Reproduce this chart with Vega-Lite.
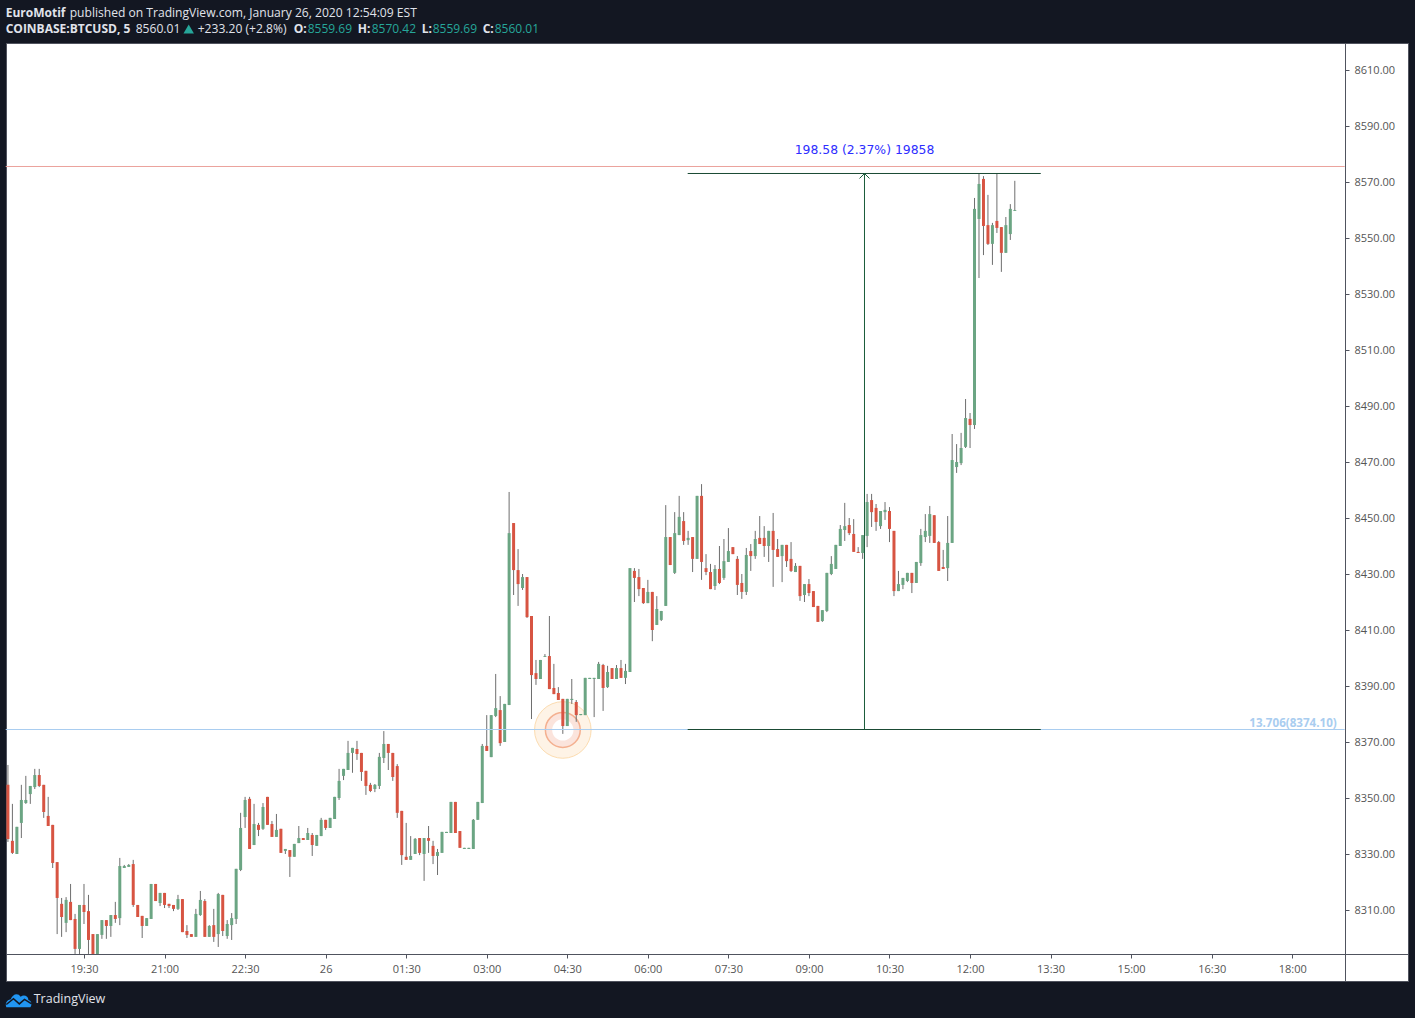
{"$schema":"https://vega.github.io/schema/vega-lite/v6.json","width":1402,"height":938,"autosize":"none","padding":{"left":6,"top":43,"right":7,"bottom":37},"background":"#131722","view":{"fill":"#ffffff","stroke":"#50535e"},"config":{"font":"Open Sans"},
"datasets":{"candles":[
{"t":"2020-01-25T18:05Z","o":8354.7,"h":8361.8,"l":8334.3,"c":8335.4},
{"t":"2020-01-25T18:10Z","o":8334.7,"h":8347.9,"l":8330.0,"c":8330.4},
{"t":"2020-01-25T18:15Z","o":8330.0,"h":8339.7,"l":8330.0,"c":8339.7},
{"t":"2020-01-25T18:20Z","o":8341.1,"h":8354.7,"l":8335.7,"c":8349.3},
{"t":"2020-01-25T18:25Z","o":8348.2,"h":8357.9,"l":8347.9,"c":8349.3},
{"t":"2020-01-25T18:30Z","o":8351.4,"h":8354.3,"l":8347.9,"c":8354.3},
{"t":"2020-01-25T18:35Z","o":8353.9,"h":8360.4,"l":8353.2,"c":8358.2},
{"t":"2020-01-25T18:40Z","o":8358.2,"h":8360.4,"l":8353.9,"c":8354.3},
{"t":"2020-01-25T18:45Z","o":8354.7,"h":8354.7,"l":8342.9,"c":8345.0},
{"t":"2020-01-25T18:50Z","o":8343.6,"h":8350.4,"l":8340.0,"c":8340.0},
{"t":"2020-01-25T18:55Z","o":8340.4,"h":8340.4,"l":8325.0,"c":8326.8},
{"t":"2020-01-25T19:00Z","o":8327.1,"h":8327.1,"l":8301.4,"c":8314.3},
{"t":"2020-01-25T19:05Z","o":8312.2,"h":8314.3,"l":8300.4,"c":8307.5},
{"t":"2020-01-25T19:10Z","o":8305.4,"h":8314.6,"l":8302.1,"c":8313.6},
{"t":"2020-01-25T19:15Z","o":8312.9,"h":8319.3,"l":8306.4,"c":8306.4},
{"t":"2020-01-25T19:20Z","o":8306.8,"h":8308.6,"l":8294.3,"c":8296.1},
{"t":"2020-01-25T19:25Z","o":8296.1,"h":8311.8,"l":8294.3,"c":8311.8},
{"t":"2020-01-25T19:30Z","o":8311.8,"h":8319.3,"l":8305.0,"c":8309.3},
{"t":"2020-01-25T19:35Z","o":8309.6,"h":8315.4,"l":8294.3,"c":8299.3},
{"t":"2020-01-25T19:40Z","o":8301.4,"h":8301.4,"l":8294.3,"c":8294.3},
{"t":"2020-01-25T19:45Z","o":8294.3,"h":8301.4,"l":8294.3,"c":8301.4},
{"t":"2020-01-25T19:50Z","o":8301.1,"h":8306.4,"l":8299.7,"c":8306.4},
{"t":"2020-01-25T19:55Z","o":8306.4,"h":8306.4,"l":8299.7,"c":8304.3},
{"t":"2020-01-25T20:00Z","o":8304.3,"h":8308.2,"l":8300.4,"c":8308.2},
{"t":"2020-01-25T20:05Z","o":8308.2,"h":8312.9,"l":8305.4,"c":8306.8},
{"t":"2020-01-25T20:10Z","o":8307.1,"h":8328.6,"l":8304.6,"c":8325.7},
{"t":"2020-01-25T20:15Z","o":8325.0,"h":8326.1,"l":8325.0,"c":8325.7},
{"t":"2020-01-25T20:20Z","o":8325.4,"h":8326.4,"l":8325.4,"c":8326.1},
{"t":"2020-01-25T20:25Z","o":8326.4,"h":8327.9,"l":8311.1,"c":8311.8},
{"t":"2020-01-25T20:30Z","o":8311.8,"h":8311.8,"l":8307.5,"c":8307.5},
{"t":"2020-01-25T20:35Z","o":8307.9,"h":8307.9,"l":8300.0,"c":8304.3},
{"t":"2020-01-25T20:40Z","o":8304.3,"h":8307.1,"l":8304.3,"c":8307.1},
{"t":"2020-01-25T20:45Z","o":8306.8,"h":8319.3,"l":8306.8,"c":8319.3},
{"t":"2020-01-25T20:50Z","o":8319.3,"h":8319.3,"l":8313.2,"c":8313.2},
{"t":"2020-01-25T20:55Z","o":8312.5,"h":8316.1,"l":8311.4,"c":8316.1},
{"t":"2020-01-25T21:00Z","o":8316.1,"h":8316.1,"l":8310.7,"c":8311.8},
{"t":"2020-01-25T21:05Z","o":8312.2,"h":8312.2,"l":8310.7,"c":8311.4},
{"t":"2020-01-25T21:10Z","o":8311.8,"h":8311.8,"l":8309.6,"c":8310.4},
{"t":"2020-01-25T21:15Z","o":8310.4,"h":8315.4,"l":8310.0,"c":8313.9},
{"t":"2020-01-25T21:20Z","o":8313.9,"h":8313.9,"l":8302.1,"c":8302.1},
{"t":"2020-01-25T21:25Z","o":8302.5,"h":8304.6,"l":8300.0,"c":8301.1},
{"t":"2020-01-25T21:30Z","o":8301.4,"h":8301.4,"l":8300.4,"c":8300.4},
{"t":"2020-01-25T21:35Z","o":8300.4,"h":8310.4,"l":8300.4,"c":8308.6},
{"t":"2020-01-25T21:40Z","o":8308.2,"h":8316.8,"l":8307.9,"c":8313.6},
{"t":"2020-01-25T21:45Z","o":8313.2,"h":8313.9,"l":8300.4,"c":8300.4},
{"t":"2020-01-25T21:50Z","o":8300.4,"h":8304.6,"l":8300.4,"c":8304.3},
{"t":"2020-01-25T21:55Z","o":8304.6,"h":8310.4,"l":8298.6,"c":8300.4},
{"t":"2020-01-25T22:00Z","o":8301.4,"h":8316.1,"l":8296.8,"c":8315.7},
{"t":"2020-01-25T22:05Z","o":8315.4,"h":8315.4,"l":8300.7,"c":8302.5},
{"t":"2020-01-25T22:10Z","o":8300.7,"h":8306.4,"l":8299.7,"c":8305.0},
{"t":"2020-01-25T22:15Z","o":8304.6,"h":8308.9,"l":8299.3,"c":8307.1},
{"t":"2020-01-25T22:20Z","o":8306.8,"h":8324.7,"l":8305.0,"c":8324.7},
{"t":"2020-01-25T22:25Z","o":8324.3,"h":8344.7,"l":8323.9,"c":8339.3},
{"t":"2020-01-25T22:30Z","o":8343.2,"h":8350.4,"l":8339.3,"c":8349.3},
{"t":"2020-01-25T22:35Z","o":8349.7,"h":8350.4,"l":8331.8,"c":8331.8},
{"t":"2020-01-25T22:40Z","o":8333.2,"h":8347.9,"l":8333.2,"c":8340.7},
{"t":"2020-01-25T22:45Z","o":8340.4,"h":8341.1,"l":8336.4,"c":8338.6},
{"t":"2020-01-25T22:50Z","o":8339.0,"h":8348.2,"l":8338.6,"c":8346.8},
{"t":"2020-01-25T22:55Z","o":8350.4,"h":8350.4,"l":8340.4,"c":8340.4},
{"t":"2020-01-25T23:00Z","o":8340.7,"h":8341.8,"l":8336.1,"c":8336.1},
{"t":"2020-01-25T23:05Z","o":8336.1,"h":8344.3,"l":8336.1,"c":8338.6},
{"t":"2020-01-25T23:10Z","o":8339.0,"h":8339.0,"l":8330.4,"c":8330.4},
{"t":"2020-01-25T23:15Z","o":8331.1,"h":8331.8,"l":8330.0,"c":8331.8},
{"t":"2020-01-25T23:20Z","o":8331.4,"h":8331.4,"l":8321.8,"c":8329.0},
{"t":"2020-01-25T23:25Z","o":8329.0,"h":8333.6,"l":8329.0,"c":8333.6},
{"t":"2020-01-25T23:30Z","o":8333.9,"h":8340.0,"l":8333.9,"c":8335.7},
{"t":"2020-01-25T23:35Z","o":8335.7,"h":8335.7,"l":8335.0,"c":8335.0},
{"t":"2020-01-25T23:40Z","o":8335.0,"h":8339.3,"l":8335.0,"c":8337.5},
{"t":"2020-01-25T23:45Z","o":8336.8,"h":8337.5,"l":8329.3,"c":8333.2},
{"t":"2020-01-25T23:50Z","o":8332.9,"h":8336.8,"l":8332.9,"c":8336.8},
{"t":"2020-01-25T23:55Z","o":8336.4,"h":8342.9,"l":8336.4,"c":8342.2},
{"t":"2020-01-26T00:00Z","o":8342.2,"h":8342.2,"l":8338.6,"c":8339.3},
{"t":"2020-01-26T00:05Z","o":8339.3,"h":8342.9,"l":8339.3,"c":8342.9},
{"t":"2020-01-26T00:10Z","o":8342.5,"h":8350.4,"l":8342.5,"c":8350.4},
{"t":"2020-01-26T00:15Z","o":8350.0,"h":8360.4,"l":8349.3,"c":8356.1},
{"t":"2020-01-26T00:20Z","o":8357.9,"h":8360.4,"l":8356.4,"c":8360.4},
{"t":"2020-01-26T00:25Z","o":8360.0,"h":8370.4,"l":8360.0,"c":8366.1},
{"t":"2020-01-26T00:30Z","o":8366.1,"h":8367.9,"l":8359.0,"c":8367.9},
{"t":"2020-01-26T00:35Z","o":8367.5,"h":8370.4,"l":8363.6,"c":8365.7},
{"t":"2020-01-26T00:40Z","o":8366.1,"h":8366.1,"l":8356.1,"c":8359.3},
{"t":"2020-01-26T00:45Z","o":8359.7,"h":8359.7,"l":8351.1,"c":8354.3},
{"t":"2020-01-26T00:50Z","o":8354.7,"h":8355.4,"l":8352.1,"c":8352.5},
{"t":"2020-01-26T00:55Z","o":8353.2,"h":8355.0,"l":8352.1,"c":8354.7},
{"t":"2020-01-26T01:00Z","o":8354.3,"h":8366.1,"l":8353.2,"c":8364.7},
{"t":"2020-01-26T01:05Z","o":8364.3,"h":8373.9,"l":8362.5,"c":8369.3},
{"t":"2020-01-26T01:10Z","o":8369.3,"h":8369.3,"l":8360.0,"c":8366.1},
{"t":"2020-01-26T01:15Z","o":8366.1,"h":8366.1,"l":8356.1,"c":8357.5},
{"t":"2020-01-26T01:20Z","o":8361.4,"h":8362.1,"l":8342.9,"c":8344.7},
{"t":"2020-01-26T01:25Z","o":8345.4,"h":8345.4,"l":8326.1,"c":8329.6},
{"t":"2020-01-26T01:30Z","o":8329.0,"h":8341.1,"l":8327.9,"c":8327.9},
{"t":"2020-01-26T01:35Z","o":8327.9,"h":8336.4,"l":8327.9,"c":8329.3},
{"t":"2020-01-26T01:40Z","o":8330.0,"h":8335.7,"l":8330.0,"c":8335.4},
{"t":"2020-01-26T01:45Z","o":8335.7,"h":8335.7,"l":8329.6,"c":8330.4},
{"t":"2020-01-26T01:50Z","o":8330.0,"h":8335.7,"l":8320.4,"c":8335.7},
{"t":"2020-01-26T01:55Z","o":8335.7,"h":8340.0,"l":8330.4,"c":8334.7},
{"t":"2020-01-26T02:00Z","o":8332.9,"h":8334.7,"l":8326.4,"c":8329.3},
{"t":"2020-01-26T02:05Z","o":8329.3,"h":8331.8,"l":8322.5,"c":8330.7},
{"t":"2020-01-26T02:10Z","o":8330.4,"h":8337.9,"l":8330.4,"c":8337.9},
{"t":"2020-01-26T02:15Z","o":8337.5,"h":8337.9,"l":8337.5,"c":8337.9},
{"t":"2020-01-26T02:20Z","o":8337.5,"h":8348.6,"l":8337.5,"c":8348.6},
{"t":"2020-01-26T02:25Z","o":8348.6,"h":8348.6,"l":8337.5,"c":8337.5},
{"t":"2020-01-26T02:30Z","o":8338.2,"h":8338.2,"l":8332.2,"c":8332.2},
{"t":"2020-01-26T02:35Z","o":8331.8,"h":8332.2,"l":8331.8,"c":8332.2},
{"t":"2020-01-26T02:40Z","o":8331.8,"h":8332.2,"l":8331.8,"c":8332.2},
{"t":"2020-01-26T02:45Z","o":8331.8,"h":8342.5,"l":8331.8,"c":8342.2},
{"t":"2020-01-26T02:50Z","o":8342.2,"h":8348.6,"l":8342.2,"c":8348.6},
{"t":"2020-01-26T02:55Z","o":8348.2,"h":8369.3,"l":8348.2,"c":8368.6},
{"t":"2020-01-26T03:00Z","o":8368.6,"h":8379.6,"l":8366.8,"c":8366.8},
{"t":"2020-01-26T03:05Z","o":8364.6,"h":8379.6,"l":8364.6,"c":8379.6},
{"t":"2020-01-26T03:10Z","o":8379.3,"h":8394.3,"l":8378.9,"c":8382.1},
{"t":"2020-01-26T03:15Z","o":8381.4,"h":8386.4,"l":8368.6,"c":8369.6},
{"t":"2020-01-26T03:20Z","o":8370.0,"h":8383.6,"l":8370.0,"c":8383.6},
{"t":"2020-01-26T03:25Z","o":8383.2,"h":8459.3,"l":8383.2,"c":8444.6},
{"t":"2020-01-26T03:30Z","o":8448.2,"h":8448.2,"l":8422.5,"c":8431.4},
{"t":"2020-01-26T03:35Z","o":8431.4,"h":8438.9,"l":8418.6,"c":8426.4},
{"t":"2020-01-26T03:40Z","o":8425.0,"h":8430.0,"l":8424.3,"c":8428.9},
{"t":"2020-01-26T03:45Z","o":8428.9,"h":8428.9,"l":8414.3,"c":8414.6},
{"t":"2020-01-26T03:50Z","o":8415.0,"h":8415.0,"l":8378.2,"c":8393.9},
{"t":"2020-01-26T03:55Z","o":8394.6,"h":8399.3,"l":8390.4,"c":8392.5},
{"t":"2020-01-26T04:00Z","o":8392.5,"h":8399.3,"l":8392.5,"c":8399.3},
{"t":"2020-01-26T04:05Z","o":8400.4,"h":8401.4,"l":8400.4,"c":8400.7},
{"t":"2020-01-26T04:10Z","o":8400.7,"h":8415.0,"l":8388.9,"c":8388.9},
{"t":"2020-01-26T04:15Z","o":8389.3,"h":8397.9,"l":8387.1,"c":8387.1},
{"t":"2020-01-26T04:20Z","o":8387.5,"h":8389.6,"l":8385.0,"c":8385.0},
{"t":"2020-01-26T04:25Z","o":8385.4,"h":8385.4,"l":8372.9,"c":8375.7},
{"t":"2020-01-26T04:30Z","o":8375.7,"h":8385.4,"l":8375.7,"c":8385.4},
{"t":"2020-01-26T04:35Z","o":8385.0,"h":8392.5,"l":8383.6,"c":8385.4},
{"t":"2020-01-26T04:40Z","o":8384.3,"h":8385.0,"l":8377.2,"c":8379.6},
{"t":"2020-01-26T04:45Z","o":8379.6,"h":8380.0,"l":8379.6,"c":8380.0},
{"t":"2020-01-26T04:50Z","o":8379.6,"h":8392.9,"l":8379.6,"c":8392.9},
{"t":"2020-01-26T04:55Z","o":8392.5,"h":8392.9,"l":8392.5,"c":8392.9},
{"t":"2020-01-26T05:00Z","o":8392.5,"h":8392.9,"l":8378.9,"c":8392.9},
{"t":"2020-01-26T05:05Z","o":8392.5,"h":8398.6,"l":8392.5,"c":8397.9},
{"t":"2020-01-26T05:10Z","o":8397.5,"h":8397.9,"l":8381.1,"c":8389.3},
{"t":"2020-01-26T05:15Z","o":8389.6,"h":8397.2,"l":8389.3,"c":8395.0},
{"t":"2020-01-26T05:20Z","o":8396.4,"h":8396.4,"l":8392.5,"c":8392.5},
{"t":"2020-01-26T05:25Z","o":8392.5,"h":8397.5,"l":8392.5,"c":8396.4},
{"t":"2020-01-26T05:30Z","o":8396.4,"h":8399.3,"l":8392.9,"c":8392.9},
{"t":"2020-01-26T05:35Z","o":8392.9,"h":8397.9,"l":8390.7,"c":8395.4},
{"t":"2020-01-26T05:40Z","o":8395.0,"h":8432.1,"l":8395.0,"c":8432.1},
{"t":"2020-01-26T05:45Z","o":8431.1,"h":8432.1,"l":8420.0,"c":8428.6},
{"t":"2020-01-26T05:50Z","o":8428.9,"h":8431.8,"l":8422.1,"c":8424.6},
{"t":"2020-01-26T05:55Z","o":8425.0,"h":8425.0,"l":8419.3,"c":8419.6},
{"t":"2020-01-26T06:00Z","o":8419.6,"h":8427.9,"l":8419.6,"c":8423.6},
{"t":"2020-01-26T06:05Z","o":8423.6,"h":8423.6,"l":8406.0,"c":8410.0},
{"t":"2020-01-26T06:10Z","o":8411.8,"h":8422.1,"l":8411.8,"c":8417.5},
{"t":"2020-01-26T06:15Z","o":8413.6,"h":8416.8,"l":8413.2,"c":8416.8},
{"t":"2020-01-26T06:20Z","o":8418.6,"h":8454.6,"l":8418.6,"c":8443.2},
{"t":"2020-01-26T06:25Z","o":8443.2,"h":8443.2,"l":8433.2,"c":8433.2},
{"t":"2020-01-26T06:30Z","o":8430.4,"h":8452.1,"l":8430.0,"c":8444.6},
{"t":"2020-01-26T06:35Z","o":8443.9,"h":8457.9,"l":8443.9,"c":8450.4},
{"t":"2020-01-26T06:40Z","o":8448.9,"h":8452.1,"l":8440.4,"c":8441.8},
{"t":"2020-01-26T06:45Z","o":8442.1,"h":8445.4,"l":8440.4,"c":8442.9},
{"t":"2020-01-26T06:50Z","o":8443.2,"h":8443.2,"l":8430.7,"c":8435.4},
{"t":"2020-01-26T06:55Z","o":8435.4,"h":8457.9,"l":8435.4,"c":8457.9},
{"t":"2020-01-26T07:00Z","o":8457.9,"h":8462.1,"l":8427.9,"c":8434.3},
{"t":"2020-01-26T07:05Z","o":8432.1,"h":8437.1,"l":8429.6,"c":8430.7},
{"t":"2020-01-26T07:10Z","o":8430.7,"h":8433.6,"l":8424.6,"c":8424.6},
{"t":"2020-01-26T07:15Z","o":8425.7,"h":8433.2,"l":8424.3,"c":8431.8},
{"t":"2020-01-26T07:20Z","o":8431.8,"h":8440.0,"l":8426.4,"c":8426.8},
{"t":"2020-01-26T07:25Z","o":8428.6,"h":8442.5,"l":8427.9,"c":8434.6},
{"t":"2020-01-26T07:30Z","o":8434.3,"h":8446.4,"l":8434.3,"c":8438.2},
{"t":"2020-01-26T07:35Z","o":8439.6,"h":8439.6,"l":8437.1,"c":8437.1},
{"t":"2020-01-26T07:40Z","o":8435.4,"h":8436.4,"l":8422.5,"c":8426.1},
{"t":"2020-01-26T07:45Z","o":8426.8,"h":8430.0,"l":8421.1,"c":8423.6},
{"t":"2020-01-26T07:50Z","o":8423.6,"h":8439.3,"l":8422.5,"c":8436.8},
{"t":"2020-01-26T07:55Z","o":8438.2,"h":8440.7,"l":8431.1,"c":8436.4},
{"t":"2020-01-26T08:00Z","o":8436.4,"h":8445.4,"l":8435.4,"c":8442.5},
{"t":"2020-01-26T08:05Z","o":8442.9,"h":8450.7,"l":8440.7,"c":8440.7},
{"t":"2020-01-26T08:10Z","o":8442.9,"h":8447.1,"l":8436.1,"c":8440.0},
{"t":"2020-01-26T08:15Z","o":8440.0,"h":8445.4,"l":8434.3,"c":8445.4},
{"t":"2020-01-26T08:20Z","o":8445.4,"h":8451.8,"l":8425.4,"c":8438.6},
{"t":"2020-01-26T08:25Z","o":8438.9,"h":8442.5,"l":8436.1,"c":8436.1},
{"t":"2020-01-26T08:30Z","o":8436.4,"h":8440.4,"l":8427.1,"c":8440.4},
{"t":"2020-01-26T08:35Z","o":8440.4,"h":8440.4,"l":8432.5,"c":8434.6},
{"t":"2020-01-26T08:40Z","o":8435.4,"h":8441.4,"l":8430.7,"c":8431.1},
{"t":"2020-01-26T08:45Z","o":8430.7,"h":8433.9,"l":8430.7,"c":8432.9},
{"t":"2020-01-26T08:50Z","o":8432.9,"h":8432.9,"l":8420.4,"c":8422.1},
{"t":"2020-01-26T08:55Z","o":8422.5,"h":8426.4,"l":8420.0,"c":8426.4},
{"t":"2020-01-26T09:00Z","o":8426.4,"h":8428.2,"l":8422.1,"c":8423.2},
{"t":"2020-01-26T09:05Z","o":8423.9,"h":8423.9,"l":8418.2,"c":8418.2},
{"t":"2020-01-26T09:10Z","o":8418.6,"h":8418.6,"l":8412.9,"c":8412.9},
{"t":"2020-01-26T09:15Z","o":8413.2,"h":8417.1,"l":8412.9,"c":8417.1},
{"t":"2020-01-26T09:20Z","o":8416.8,"h":8430.4,"l":8416.4,"c":8430.4},
{"t":"2020-01-26T09:25Z","o":8430.0,"h":8436.4,"l":8429.6,"c":8433.6},
{"t":"2020-01-26T09:30Z","o":8431.8,"h":8440.4,"l":8431.8,"c":8440.4},
{"t":"2020-01-26T09:35Z","o":8440.0,"h":8447.5,"l":8440.0,"c":8446.1},
{"t":"2020-01-26T09:40Z","o":8445.7,"h":8455.4,"l":8441.8,"c":8447.1},
{"t":"2020-01-26T09:45Z","o":8447.5,"h":8450.0,"l":8443.9,"c":8444.6},
{"t":"2020-01-26T09:50Z","o":8444.3,"h":8449.6,"l":8437.9,"c":8437.9},
{"t":"2020-01-26T09:55Z","o":8437.9,"h":8439.6,"l":8437.5,"c":8437.5},
{"t":"2020-01-26T10:00Z","o":8437.5,"h":8443.9,"l":8435.4,"c":8443.9},
{"t":"2020-01-26T10:05Z","o":8443.6,"h":8458.6,"l":8439.6,"c":8455.7},
{"t":"2020-01-26T10:10Z","o":8456.4,"h":8458.6,"l":8446.8,"c":8452.1},
{"t":"2020-01-26T10:15Z","o":8453.6,"h":8455.0,"l":8445.4,"c":8448.6},
{"t":"2020-01-26T10:20Z","o":8447.1,"h":8452.5,"l":8446.1,"c":8452.5},
{"t":"2020-01-26T10:25Z","o":8452.1,"h":8455.7,"l":8449.3,"c":8452.9},
{"t":"2020-01-26T10:30Z","o":8452.5,"h":8453.9,"l":8441.4,"c":8446.1},
{"t":"2020-01-26T10:35Z","o":8445.4,"h":8445.4,"l":8422.1,"c":8423.9},
{"t":"2020-01-26T10:40Z","o":8423.9,"h":8431.1,"l":8423.9,"c":8426.4},
{"t":"2020-01-26T10:45Z","o":8426.1,"h":8428.6,"l":8424.6,"c":8428.6},
{"t":"2020-01-26T10:50Z","o":8427.5,"h":8430.4,"l":8427.1,"c":8430.4},
{"t":"2020-01-26T10:55Z","o":8430.4,"h":8430.4,"l":8423.2,"c":8426.8},
{"t":"2020-01-26T11:00Z","o":8426.8,"h":8434.3,"l":8426.8,"c":8434.3},
{"t":"2020-01-26T11:05Z","o":8433.9,"h":8446.1,"l":8432.9,"c":8443.9},
{"t":"2020-01-26T11:10Z","o":8443.2,"h":8451.4,"l":8441.4,"c":8445.4},
{"t":"2020-01-26T11:15Z","o":8443.6,"h":8454.3,"l":8441.1,"c":8451.4},
{"t":"2020-01-26T11:20Z","o":8451.0,"h":8451.0,"l":8441.1,"c":8441.1},
{"t":"2020-01-26T11:25Z","o":8441.4,"h":8441.8,"l":8431.1,"c":8431.1},
{"t":"2020-01-26T11:30Z","o":8432.5,"h":8438.6,"l":8431.8,"c":8431.8},
{"t":"2020-01-26T11:35Z","o":8432.1,"h":8450.7,"l":8427.5,"c":8441.1},
{"t":"2020-01-26T11:40Z","o":8441.1,"h":8480.0,"l":8441.1,"c":8470.7},
{"t":"2020-01-26T11:45Z","o":8468.2,"h":8476.4,"l":8466.1,"c":8470.0},
{"t":"2020-01-26T11:50Z","o":8469.6,"h":8480.4,"l":8468.9,"c":8475.0},
{"t":"2020-01-26T11:55Z","o":8475.4,"h":8492.5,"l":8475.0,"c":8485.7},
{"t":"2020-01-26T12:00Z","o":8485.4,"h":8487.5,"l":8475.0,"c":8483.2},
{"t":"2020-01-26T12:05Z","o":8483.2,"h":8564.3,"l":8481.8,"c":8560.4},
{"t":"2020-01-26T12:10Z","o":8556.8,"h":8573.2,"l":8535.7,"c":8569.3},
{"t":"2020-01-26T12:15Z","o":8571.1,"h":8572.1,"l":8543.9,"c":8554.3},
{"t":"2020-01-26T12:20Z","o":8554.6,"h":8565.4,"l":8547.5,"c":8547.9},
{"t":"2020-01-26T12:25Z","o":8547.9,"h":8555.4,"l":8540.4,"c":8554.6},
{"t":"2020-01-26T12:30Z","o":8556.1,"h":8573.2,"l":8551.8,"c":8553.6},
{"t":"2020-01-26T12:35Z","o":8553.9,"h":8553.9,"l":8537.9,"c":8544.7},
{"t":"2020-01-26T12:40Z","o":8544.7,"h":8557.5,"l":8544.7,"c":8554.6},
{"t":"2020-01-26T12:45Z","o":8551.4,"h":8562.1,"l":8549.3,"c":8560.4},
{"t":"2020-01-26T12:50Z","o":8559.69,"h":8570.42,"l":8559.69,"c":8560.01}
]},
"layer":[
{"data":{"values":[{"t":"2020-01-26T04:25Z","y":8374.3}]},"mark":{"type":"point","filled":true,"size":3200,"fill":"#fef3e6","stroke":"#fcdcb0","strokeWidth":1,"opacity":1},"encoding":{"x":{"field":"t","type":"temporal","scale":{"type":"utc","domain":[1579975371000,1580069360000],"nice":false,"padding":0},"axis":{"orient":"bottom","offset":-27,"title":null,"grid":false,"values":[1579980600000,1579986000000,1579991400000,1579996800000,1580002200000,1580007600000,1580013000000,1580018400000,1580023800000,1580029200000,1580034600000,1580040000000,1580045400000,1580050800000,1580056200000,1580061600000],"labelExpr":"utcFormat(datum.value,'%H:%M')=='00:00'?'26':utcFormat(datum.value,'%H:%M')","labelColor":"#555555","labelFontSize":11,"labelFont":"Open Sans","labelPadding":5,"tickColor":"#50535e","tickSize":4,"domainColor":"#50535e","labelFlush":false,"labelOverlap":false}},"y":{"field":"y","type":"quantitative","scale":{"domain":[8284.643,8619.643],"nice":false,"zero":false,"padding":0},"axis":{"orient":"right","offset":-63,"title":null,"grid":false,"values":[8310,8330,8350,8370,8390,8410,8430,8450,8470,8490,8510,8530,8550,8570,8590,8610],"format":".2f","labelColor":"#555555","labelFontSize":11,"labelFont":"Open Sans","labelPadding":5,"tickColor":"#50535e","tickSize":4,"domainColor":"#50535e","labelOverlap":false}}}},
{"data":{"values":[{"t":"2020-01-26T04:25Z","y":8374.3}]},"mark":{"type":"point","filled":true,"size":1215,"fill":"#fbe4dc","stroke":"#f4b090","strokeWidth":1.5,"opacity":1},"encoding":{"x":{"field":"t","type":"temporal"},"y":{"field":"y","type":"quantitative"}}},
{"data":{"values":[{"t":"2020-01-26T04:25Z","y":8374.3}]},"mark":{"type":"point","filled":true,"size":454,"fill":"#ffffff","opacity":1},"encoding":{"x":{"field":"t","type":"temporal"},"y":{"field":"y","type":"quantitative"}}},
{"data":{"name":"candles"},"mark":{"type":"rule","color":"#6e6e6e","strokeWidth":1},"encoding":{"x":{"field":"t","type":"temporal"},"y":{"field":"l","type":"quantitative"},"y2":{"field":"h"}}},
{"data":{"name":"candles"},"mark":{"type":"bar","size":3,"orient":"vertical"},"encoding":{"x":{"field":"t","type":"temporal"},"y":{"field":"o","type":"quantitative"},"y2":{"field":"c"},"color":{"condition":{"test":"datum.c>=datum.o","value":"#6ba583"},"value":"#d75442"}}},
{"data":{"values":[{"a":"2020-01-25T18:02:31Z","b":"2020-01-26T18:58:36Z","y":8575.536}]},"mark":{"type":"rule","color":"#eba29c","strokeWidth":1},"encoding":{"x":{"field":"a","type":"temporal"},"x2":{"field":"b"},"y":{"field":"y","type":"quantitative"}}},
{"data":{"values":[{"a":"2020-01-25T18:02:31Z","b":"2020-01-26T18:58:36Z","y":8374.464}]},"mark":{"type":"rule","color":"#a9cdf0","strokeWidth":1},"encoding":{"x":{"field":"a","type":"temporal"},"x2":{"field":"b"},"y":{"field":"y","type":"quantitative"}}},
{"data":{"values":[{"a":"2020-01-26T06:44:30Z","b":"2020-01-26T13:19:00Z","y":8573.036},{"a":"2020-01-26T06:44:30Z","b":"2020-01-26T13:19:00Z","y":8374.464}]},"mark":{"type":"rule","color":"#1a4a34","strokeWidth":1},"encoding":{"x":{"field":"a","type":"temporal"},"x2":{"field":"b"},"y":{"field":"y","type":"quantitative"}}},
{"data":{"values":[{"t":"2020-01-26T10:02:04Z","lo":8374.464,"hi":8573.036}]},"mark":{"type":"rule","color":"#1a5c3a","strokeWidth":1},"encoding":{"x":{"field":"t","type":"temporal"},"y":{"field":"lo","type":"quantitative"},"y2":{"field":"hi"}}},
{"data":{"values":[{"t":"2020-01-26T10:02:04Z","y":8573.036}]},"mark":{"type":"point","shape":"M-1,1L0,0L1,1","size":100,"filled":false,"stroke":"#1a5c3a","strokeWidth":1,"opacity":1},"encoding":{"x":{"field":"t","type":"temporal"},"y":{"field":"y","type":"quantitative"}}},
{"data":{"values":[{"t":"2020-01-26T10:02:04Z","y":8581.3,"label":"198.58 (2.37%) 19858"}]},"mark":{"type":"text","align":"center","baseline":"middle","font":"DejaVu Sans","fontSize":12.4,"color":"#2e2eff"},"encoding":{"x":{"field":"t","type":"temporal"},"y":{"field":"y","type":"quantitative"},"text":{"field":"label"}}},
{"data":{"values":[{"t":"2020-01-26T18:49:40Z","y":8376.5,"label":"13.706(8374.10)"}]},"mark":{"type":"text","align":"right","baseline":"middle","font":"Open Sans","fontSize":11.6,"fontWeight":"bold","color":"#a9cdf0"},"encoding":{"x":{"field":"t","type":"temporal"},"y":{"field":"y","type":"quantitative"},"text":{"field":"label"}}},
{"data":{"values":[{"t":"2020-01-25T18:02:30Z","y":8630.36,"label":"EuroMotif"},{"t":"2020-01-25T18:02:30Z","y":8624.64,"label":"COINBASE:BTCUSD, 5"},{"t":"2020-01-25T23:24:15Z","y":8624.64,"label":"O:"},{"t":"2020-01-26T00:35:50Z","y":8624.64,"label":"H:"},{"t":"2020-01-26T01:47:20Z","y":8624.64,"label":"L:"},{"t":"2020-01-26T02:55:30Z","y":8624.64,"label":"C:"}]},"mark":{"type":"text","align":"left","baseline":"middle","font":"Open Sans","fontSize":12,"fontWeight":"bold","color":"#e0e3eb"},"encoding":{"x":{"field":"t","type":"temporal"},"y":{"field":"y","type":"quantitative"},"text":{"field":"label"}}},
{"data":{"values":[{"t":"2020-01-25T19:14:00Z","y":8630.36,"label":"published on TradingView.com, January 26, 2020 12:54:09 EST"},{"t":"2020-01-25T20:27:45Z","y":8624.64,"label":"8560.01"},{"t":"2020-01-25T21:37:00Z","y":8624.64,"label":"+233.20 (+2.8%)"}]},"mark":{"type":"text","align":"left","baseline":"middle","font":"Open Sans","fontSize":12.1,"color":"#e0e3eb"},"encoding":{"x":{"field":"t","type":"temporal"},"y":{"field":"y","type":"quantitative"},"text":{"field":"label"}}},
{"data":{"values":[{"t":"2020-01-25T18:33:50Z","y":8278.04,"label":"TradingView"}]},"mark":{"type":"text","align":"left","baseline":"middle","font":"Open Sans","fontSize":12.5,"color":"#e0e3eb"},"encoding":{"x":{"field":"t","type":"temporal"},"y":{"field":"y","type":"quantitative"},"text":{"field":"label"}}},
{"data":{"values":[{"t":"2020-01-25T23:39:55Z","y":8624.64,"label":"8559.69"},{"t":"2020-01-26T00:51:25Z","y":8624.64,"label":"8570.42"},{"t":"2020-01-26T01:59:35Z","y":8624.64,"label":"8559.69"},{"t":"2020-01-26T03:08:55Z","y":8624.64,"label":"8560.01"}]},"mark":{"type":"text","align":"left","baseline":"middle","font":"Open Sans","fontSize":12,"color":"#26a69a"},"encoding":{"x":{"field":"t","type":"temporal"},"y":{"field":"y","type":"quantitative"},"text":{"field":"label"}}},
{"data":{"values":[{"t":"2020-01-25T21:27:00Z","y":8624.64}]},"mark":{"type":"point","shape":"triangle-up","size":110,"filled":true,"fill":"#26a69a","opacity":1},"encoding":{"x":{"field":"t","type":"temporal"},"y":{"field":"y","type":"quantitative"}}},
{"data":{"values":[{"t":"2020-01-25T18:17:00Z","y":8277.86}]},"mark":{"type":"point","shape":"M-0.95,0.55C-1.05,0.3 -0.95,0 -0.6,-0.05C-0.5,-0.45 -0.05,-0.6 0.15,-0.25C0.4,-0.45 0.75,-0.3 0.75,0C1,0.05 1.05,0.4 0.9,0.55Z","size":676,"filled":true,"fill":"#2196f3","opacity":1},"encoding":{"x":{"field":"t","type":"temporal"},"y":{"field":"y","type":"quantitative"}}},
{"data":{"values":[{"t":"2020-01-25T18:17:00Z","y":8277.86}]},"mark":{"type":"point","shape":"M-0.95,0.35L-0.4,-0.1L0.05,0.3L0.45,-0.05L1,0.3","size":676,"filled":false,"stroke":"#131722","strokeWidth":1.5,"opacity":1},"encoding":{"x":{"field":"t","type":"temporal"},"y":{"field":"y","type":"quantitative"}}}
]}
